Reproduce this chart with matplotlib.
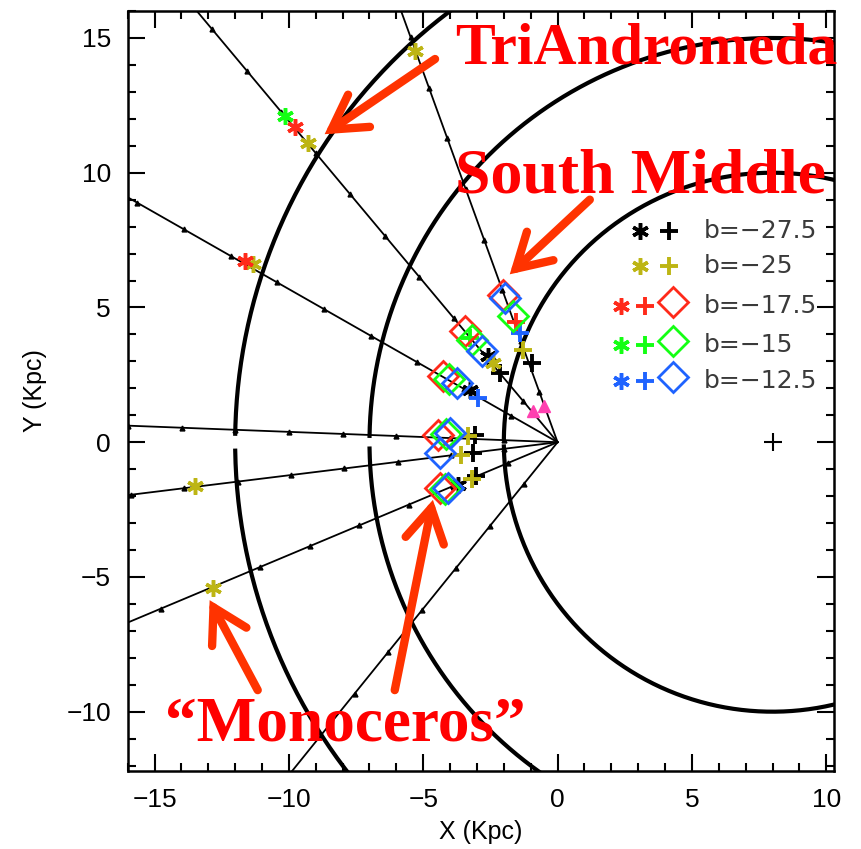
import numpy as np
import matplotlib.pyplot as plt
from matplotlib.ticker import MultipleLocator

# galactocentric rings (centre at x=8) and lines of sight from the sun at the origin
ring_radii = [10, 15, 20]
ring_centre = 8.0
los_angles = [110.0, 130.0, 150.4, 177.8, 187.0, 202.7, 231.0]

# b = -27.5
blk_ast_x = [-2.58, -3.27, -3.70]
blk_ast_y = [3.19, 1.95, -1.58]
blk_plus_x = [-0.97, -2.15, -3.08, -3.14, -3.02]
blk_plus_y = [2.94, 2.57, 0.26, -0.40, -1.27]

# b = -25
yel_ast_x = [-5.31, -9.29, -11.34, -13.50, -12.83, -2.40]
yel_ast_y = [14.53, 11.12, 6.60, -1.64, -5.42, 2.94]
yel_plus_x = [-1.28, -3.33, -3.58, -3.20]
yel_plus_y = [3.44, 0.22, -0.46, -1.35]

# b = -17.5
red_ast_x = [-9.78, -11.64]
red_ast_y = [11.68, 6.72]
red_plus_x = [-1.55]
red_plus_y = [4.45]
red_dia_x = [-2.03, -3.45, -4.26, -4.45, -4.38]
red_dia_y = [5.48, 4.12, 2.45, 0.28, -1.70]

# b = -15
grn_ast_x = [-10.15]
grn_ast_y = [12.11]
grn_plus_x = [-3.25]
grn_plus_y = [3.85]
grn_dia_x = [-1.65, -3.20, -4.05, -4.15, -4.20]
grn_dia_y = [4.68, 3.80, 2.33, 0.30, -1.75]

# b = -12.5
blu_plus_x = [-1.40, -2.96]
blu_plus_y = [4.06, 1.64]
blu_dia_x = [-1.96, -2.83, -3.76, -4.01, -4.38, -4.07]
blu_dia_y = [5.36, 3.38, 2.20, 0.34, -0.40, -1.70]

tri_x = [-0.93, -0.51]
tri_y = [1.15, 1.33]

c_blk = 'black'
c_yel = '#bdb514'
c_red = '#ff2a1a'
c_grn = '#14ff14'
c_blu = '#1f63ff'
ast = (6, 2, 0)

fig = plt.figure(figsize=(8.61, 8.49), dpi=100)
ax = fig.add_axes([0.1483, 0.0919, 0.8207, 0.8951])

for r in ring_radii:
    gap = np.radians(0.9)
    t = np.linspace(-np.pi + gap, np.pi - gap, 800)
    ax.plot(ring_centre + r * np.cos(t), r * np.sin(t), color='k', lw=3.0, zorder=2)

for a in los_angles:
    ux, uy = np.cos(np.radians(a)), np.sin(np.radians(a))
    ax.plot([0, 40 * ux], [0, 40 * uy], color='k', lw=1.3, zorder=1)
    d = np.arange(2, 40, 2)
    ax.plot(d * ux, d * uy, ls='none', marker='^', ms=3.5, color='k', zorder=1)

ax.plot(8, 0, marker='+', ms=13, mew=1.5, color='k', ls='none')

ms_a, ms_p, ms_d = 12, 13, 15
ax.plot(blk_ast_x, blk_ast_y, ls='none', marker=ast, ms=ms_a, mew=2.5, color=c_blk, zorder=4)
ax.plot(blk_plus_x, blk_plus_y, ls='none', marker='+', ms=ms_p, mew=2.8, color=c_blk, zorder=4)
ax.plot(yel_ast_x, yel_ast_y, ls='none', marker=ast, ms=ms_a, mew=2.5, color=c_yel, zorder=4)
ax.plot(yel_plus_x, yel_plus_y, ls='none', marker='+', ms=ms_p, mew=2.8, color=c_yel, zorder=4)
ax.plot(red_ast_x, red_ast_y, ls='none', marker=ast, ms=ms_a, mew=2.5, color=c_red, zorder=4)
ax.plot(red_plus_x, red_plus_y, ls='none', marker='+', ms=ms_p, mew=2.8, color=c_red, zorder=4)
ax.plot(red_dia_x, red_dia_y, ls='none', marker='D', ms=ms_d, mew=2, mfc='none', mec=c_red, zorder=5)
ax.plot(grn_ast_x, grn_ast_y, ls='none', marker=ast, ms=ms_a, mew=2.5, color=c_grn, zorder=4)
ax.plot(grn_plus_x, grn_plus_y, ls='none', marker='+', ms=ms_p, mew=2.8, color=c_grn, zorder=4)
ax.plot(grn_dia_x, grn_dia_y, ls='none', marker='D', ms=ms_d, mew=2, mfc='none', mec=c_grn, zorder=5)
ax.plot(blu_plus_x, blu_plus_y, ls='none', marker='+', ms=ms_p, mew=2.8, color=c_blu, zorder=4)
ax.plot(blu_dia_x, blu_dia_y, ls='none', marker='D', ms=ms_d, mew=2, mfc='none', mec=c_blu, zorder=5)
ax.plot(tri_x, tri_y, ls='none', marker='^', ms=8, color='#ff40b0', zorder=4)

# legend drawn by hand, IDL style
leg_y = [7.84, 6.54, 5.05, 3.62, 2.26]
leg_txt = ['b=\u221227.5', 'b=\u221225', 'b=\u221217.5', 'b=\u221215', 'b=\u221212.5']
leg_col = [c_blk, c_yel, c_red, c_grn, c_blu]
for i in range(5):
    yy = leg_y[i]
    if i < 2:
        ax.plot(3.08, yy, marker=ast, ms=ms_a, mew=2.5, color=leg_col[i])
        ax.plot(4.15, yy, marker='+', ms=ms_p, mew=2.8, color=leg_col[i])
    else:
        ax.plot(2.36, yy, marker=ast, ms=ms_a, mew=2.5, color=leg_col[i])
        ax.plot(3.25, yy, marker='+', ms=ms_p, mew=2.8, color=leg_col[i])
        ax.plot(4.3, yy + 0.15, marker='D', ms=ms_d, mew=2, mfc='none', mec=leg_col[i])
    ax.text(5.45, yy, leg_txt[i], fontsize=18, color='#3a3a3a', va='center',
            family='DejaVu Sans')

ax.set_xlim(-16, 10.3)
ax.set_ylim(-12.2, 16)
ax.xaxis.set_major_locator(MultipleLocator(5))
ax.yaxis.set_major_locator(MultipleLocator(5))
ax.xaxis.set_minor_locator(MultipleLocator(1))
ax.yaxis.set_minor_locator(MultipleLocator(1))
ax.tick_params(which='both', direction='in', top=True, right=True, width=1.5,
               labelsize=19, pad=12)
ax.tick_params(which='major', length=12)
ax.tick_params(which='minor', length=6)
for s in ax.spines.values():
    s.set_linewidth(1.8)
for lab in ax.get_xticklabels() + ax.get_yticklabels():
    lab.set_family('Liberation Sans')
ax.set_xlabel('X (Kpc)', fontsize=18, family='Liberation Sans', labelpad=6)
ax.set_ylabel('Y (Kpc)', fontsize=18, family='Liberation Sans', labelpad=14)

# annotations
ann_font = dict(family='Liberation Serif', weight='bold', color='#ff0000')
ax.text(-3.82, 14.56, 'TriAndromeda', va='center', ha='left', clip_on=False,
        fontsize=43, **ann_font)
ax.text(-3.82, 9.83, 'South Middle', va='center', ha='left', clip_on=False,
        fontsize=46, **ann_font)
ax.text(-14.62, -10.5, '\u201cMonoceros\u201d', va='center', ha='left', clip_on=False,
        fontsize=45.5, **ann_font)

arr_col = '#ff3300'
arrows = [((-4.56, 14.22), (-8.67, 11.43)),
          ((1.2, 9.0), (-1.78, 6.23)),
          ((-11.16, -9.2), (-12.95, -5.86)),
          ((-6.06, -9.2), (-4.64, -2.14))]
for tail, head in arrows:
    ax.annotate('', xy=head, xytext=tail,
                arrowprops=dict(arrowstyle='->,head_length=0.6,head_width=0.35',
                                lw=6, color=arr_col, mutation_scale=40,
                                shrinkA=0, shrinkB=0, capstyle='round',
                                joinstyle='miter'))

fig.savefig('out.png', dpi=100)
